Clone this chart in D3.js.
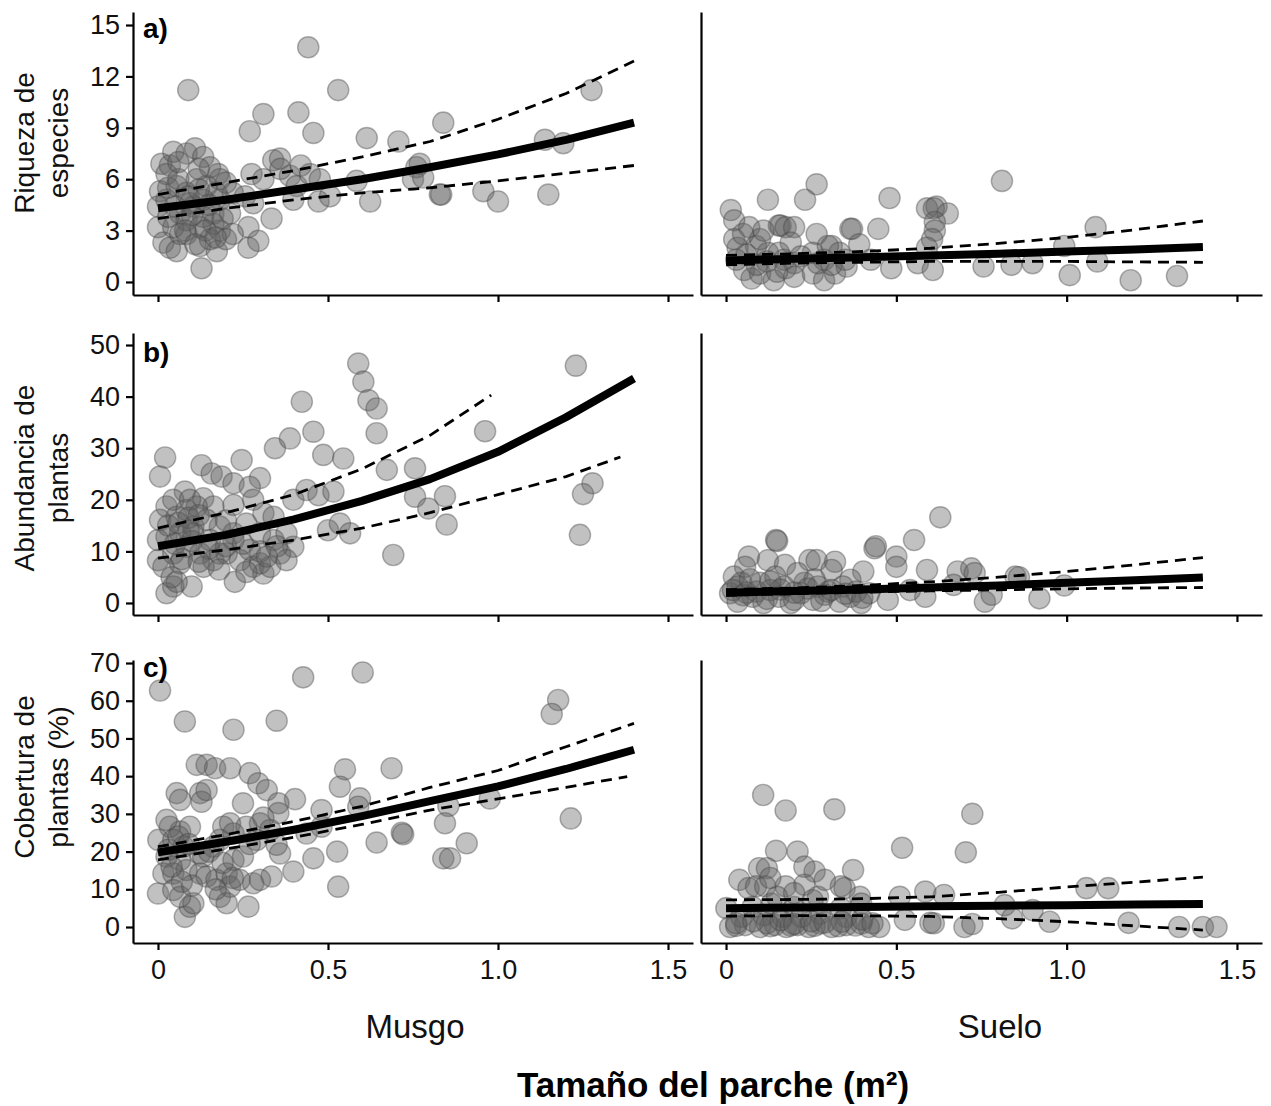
<!DOCTYPE html>
<html><head><meta charset="utf-8">
<script src="https://cdn.jsdelivr.net/npm/d3@7"></script>
<style>body{margin:0;background:#fff} text{font-family:"Liberation Sans",Arial,Helvetica,sans-serif}</style>
</head><body><svg id="c" width="1271" height="1106"></svg>
<script>
// ---------- data ----------
const xTickValues = [0, 0.5, 1.0, 1.5];
const xTickLabels = ["0", "0.5", "1.0", "1.5"];
const columnNames = ["Musgo", "Suelo"];
const rowLetters = ["a)", "b)", "c)"];
const rowTitles = [["Riqueza de", "especies"], ["Abundancia de", "plantas"], ["Cobertura de", "plantas (%)"]];
const yTicksRiqueza = [0, 3, 6, 9, 12, 15];
const yTicksAbundancia = [0, 10, 20, 30, 40, 50];
const yTicksCobertura = [0, 10, 20, 30, 40, 50, 60, 70];

const fitX = [0, 0.2, 0.4, 0.6, 0.8, 1.0, 1.2, 1.4];

// a) Riqueza de especies
const musgoRiqueza = [[0.089,11.2],[0.442,13.7],[0.53,11.2],[0.31,9.8],[0.27,8.8],[0.413,9.9],[0.457,8.7],[0.614,8.4],[0.707,8.2],[0.128,0.8],[0.01,6.9],[0.035,6.8],[0.084,7.5],[0.109,7.8],[0.045,7.6],[0.133,7.3],[0.177,6.3],[0.006,5.3],[0,4.4],[0,3.2],[0.016,2.3],[0.035,2.0],[0.055,1.8],[0.084,2.8],[0.124,2.1],[0.173,1.8],[0.153,2.5],[0.182,3.0],[0.266,3.2],[0.266,2.0],[0.295,2.4],[0.334,3.7],[0.275,6.3],[0.31,6.0],[0.339,7.1],[0.359,7.2],[0.388,6.2],[0.408,5.6],[0.398,4.8],[0.447,6.3],[0.476,6.0],[0.472,4.7],[0.506,5.0],[0.584,5.9],[0.624,4.7],[0.76,6.7],[0.75,6.0],[0.256,5.0],[0.28,4.6],[0.025,4.8],[0.055,5.6],[0.084,5.2],[0.114,6.0],[0.143,5.6],[0.065,4.0],[0.104,4.4],[0.133,4.8],[0.163,4.0],[0.182,4.8],[0.212,4.0],[0.22,5.2],[0.045,3.2],[0.084,3.6],[0.124,3.2],[0.163,3.4],[0.2,2.5],[0.22,2.8],[0.182,6.0],[0.153,6.7],[0.025,6.3],[0.065,2.8],[0.133,3.8],[0.094,4.6],[0.172,5.2],[0.839,9.3],[0.77,6.9],[0.78,6.1],[0.829,5.1],[0.833,5.1],[0.957,5.3],[1.0,4.7],[1.138,8.3],[1.192,8.1],[1.148,5.1],[1.275,11.2],[0.03,5.5],[0.06,6.0],[0.09,5.0],[0.12,5.4],[0.15,4.5],[0.05,4.4],[0.1,3.9],[0.14,3.0],[0.17,2.6],[0.08,3.0],[0.11,2.2],[0.03,3.8],[0.19,3.7],[0.2,5.8],[0.06,7.0],[0.12,6.6],[0.36,6.6],[0.42,6.8]];
const fitMusgoRiqueza = [4.3, 4.8, 5.4, 6.0, 6.7, 7.45, 8.3, 9.3];
const upMusgoRiqueza = [5.1, 5.8, 6.5, 7.3, 8.2, 9.5, 11.0, 12.9];
const loMusgoRiqueza = [3.7, 4.3, 4.8, 5.2, 5.5, 5.9, 6.35, 6.8];

const sueloRiqueza = [[0.81,5.9],[0.266,5.7],[0.232,4.8],[0.123,4.8],[0.014,4.2],[0.48,4.9],[0.59,4.3],[0.618,4.4],[0.61,4.3],[0.651,4.0],[0.613,3.5],[0.613,3.0],[0.605,2.5],[0.59,2.0],[0.447,3.1],[0.365,3.1],[0.37,3.1],[0.391,2.2],[1.085,3.2],[0.993,2.1],[1.09,1.2],[1.009,0.4],[1.188,0.1],[1.324,0.35],[0.756,0.9],[0.838,1.0],[0.9,1.1],[0.485,0.8],[0.563,1.1],[0.607,0.7],[0.425,1.3],[0.034,2.0],[0.068,3.2],[0.155,3.3],[0.16,3.3],[0.175,3.2],[0.2,3.2],[0.024,3.6],[0.266,2.8],[0.31,2.1],[0.088,2.1],[0.123,1.7],[0.17,1.3],[0.2,1.1],[0.053,0.7],[0.075,0.2],[0.1,0.5],[0.14,0.1],[0.175,0.8],[0.2,0.3],[0.255,0.5],[0.288,0.1],[0.32,0.5],[0.024,2.5],[0.1,2.5],[0.19,2.3],[0.255,1.7],[0.288,1.3],[0.333,1.7],[0.354,0.9],[0.299,2.1],[0.155,1.7],[0.03,1.3],[0.06,1.6],[0.09,1.0],[0.12,1.2],[0.15,0.6],[0.22,1.5],[0.27,1.1],[0.31,1.0],[0.35,1.3],[0.05,2.8],[0.11,3.0]];
const fitSueloRiqueza = [1.25, 1.35, 1.45, 1.55, 1.65, 1.78, 1.9, 2.04];
const upSueloRiqueza = [1.55, 1.65, 1.78, 1.97, 2.25, 2.6, 3.05, 3.56];
const loSueloRiqueza = [1.0, 1.1, 1.15, 1.2, 1.2, 1.2, 1.17, 1.15];

// b) Abundancia de plantas
const musgoAbundancia = [[0.021,28.2],[0.006,24.5],[0.128,26.7],[0.158,25.1],[0.187,24.5],[0.222,23.2],[0.246,27.7],[0.3,24.2],[0.27,22.5],[0.344,30.0],[0.388,31.9],[0.423,39.0],[0.457,33.2],[0.486,28.7],[0.545,28.0],[0.589,46.4],[0.604,42.9],[0.619,39.3],[0.643,37.7],[0.643,32.9],[0.673,25.8],[0.756,26.1],[0.692,9.3],[0.398,20.0],[0.437,21.9],[0.472,20.9],[0.516,21.6],[0.5,14.1],[0.535,15.4],[0.565,13.5],[0.756,20.6],[0.079,21.6],[0.133,20.3],[0.163,18.7],[0.222,19.0],[0.28,20.0],[0.31,17.4],[0.34,16.7],[0.226,4.1],[0.099,3.2],[0.025,1.9],[0.045,3.2],[0.055,4.1],[0,8.3],[0.006,16.1],[0.025,18.7],[0.055,16.7],[0.084,18.0],[0.114,18.7],[0.025,12.9],[0.065,13.5],[0.104,14.8],[0.143,16.1],[0.182,14.8],[0.222,13.5],[0.26,15.4],[0.3,13.5],[0.34,12.2],[0.378,13.5],[0.398,10.9],[0.045,9.6],[0.084,10.9],[0.124,9.6],[0.163,8.3],[0.202,9.6],[0.241,8.3],[0.28,7.0],[0.31,5.7],[0.33,7.0],[0.359,9.6],[0.378,8.3],[0.3,7.7],[0.016,7.0],[0.065,7.7],[0.134,7.0],[0.182,9.6],[0.27,10.3],[0.222,12.2],[0.153,12.2],[0.104,13.5],[0.045,20.0],[0,12.2],[0.094,20.0],[0.795,18.3],[0.844,20.7],[0.849,15.2],[0.962,33.3],[1.229,46.0],[1.278,23.2],[1.25,21.1],[1.241,13.2],[0.03,15.0],[0.06,15.5],[0.09,16.5],[0.12,17.0],[0.05,11.5],[0.1,12.0],[0.15,10.5],[0.2,11.0],[0.25,11.5],[0.3,10.0],[0.35,11.0],[0.07,8.5],[0.12,8.0],[0.18,6.5],[0.26,6.0],[0.32,9.0],[0.04,5.0],[0.09,14.0],[0.2,16.0]];
const fitMusgoAbundancia = [11.0, 13.2, 16.2, 19.8, 24.0, 29.3, 36.0, 43.5];
const upXMusgoAbundancia = [0, 0.2, 0.4, 0.6, 0.8, 0.98];
const upMusgoAbundancia = [14.5, 17.5, 21.0, 26.0, 32.5, 40.3];
const loXMusgoAbundancia = [0, 0.2, 0.4, 0.6, 0.8, 1.0, 1.2, 1.36];
const loMusgoAbundancia = [8.7, 10.3, 12.2, 14.5, 17.5, 21.0, 24.5, 28.3];

const sueloAbundancia = [[0.629,16.6],[0.552,12.2],[0.436,10.6],[0.44,11.0],[0.147,12.2],[0.15,12.0],[0.067,9.0],[0.123,8.3],[0.173,7.4],[0.245,8.3],[0.266,8.3],[0.32,8.0],[0.403,6.1],[0.5,9.0],[0.5,7.0],[0.59,6.4],[0.68,6.1],[0.72,6.7],[0.73,5.8],[0.85,5.1],[0.86,5.0],[0.993,3.4],[0.92,0.9],[0.76,0.25],[0.78,1.6],[0.668,3.5],[0.585,1.2],[0.54,2.5],[0.475,0.6],[0.365,4.5],[0.31,6.4],[0.056,7.0],[0.023,5.1],[0.012,1.9],[0.034,0.25],[0.078,1.2],[0.11,0.0],[0.155,1.2],[0.19,0],[0.22,1.9],[0.255,0.6],[0.29,1.6],[0.333,0.25],[0.365,1.2],[0.397,0],[0.42,1.9],[0.1,3.9],[0.17,3.2],[0.23,3.9],[0.27,3.2],[0.045,3.9],[0.145,5.1],[0.21,5.8],[0.034,3.2],[0.343,3.2],[0.382,2.2],[0.06,2.0],[0.13,2.5],[0.2,2.0],[0.3,2.2],[0.02,2.5],[0.05,1.5],[0.09,2.2],[0.12,0.8],[0.16,2.6],[0.2,0.6],[0.24,2.8],[0.28,0.4],[0.31,2.5],[0.35,1.8],[0.4,1.0],[0.07,4.6],[0.13,4.2],[0.26,4.6]];
const fitSueloAbundancia = [2.0, 2.3, 2.6, 3.0, 3.4, 3.9, 4.4, 4.95];
const upSueloAbundancia = [2.6, 2.9, 3.4, 4.1, 5.0, 6.1, 7.4, 8.8];
const loSueloAbundancia = [1.5, 1.8, 2.1, 2.35, 2.55, 2.75, 2.9, 3.0];

// c) Cobertura de plantas (%)
const musgoCobertura = [[0.006,62.7],[0.079,54.5],[0.222,52.3],[0.349,54.7],[0.427,66.2],[0.602,67.5],[0.55,41.8],[0.687,42.1],[0.535,37.2],[0.594,34.1],[0.589,31.9],[0.481,31.0],[0.481,26.6],[0.437,24.8],[0.457,18.2],[0.527,20.0],[0.53,10.7],[0.643,22.4],[0.717,25.0],[0.721,24.6],[0.398,14.7],[0.403,33.9],[0.114,43.0],[0.143,43.0],[0.168,42.1],[0.212,42.1],[0.27,40.8],[0.295,38.1],[0.32,36.3],[0.055,35.5],[0.065,33.7],[0.124,35.5],[0.128,33.2],[0.25,32.8],[0.354,32.8],[0.354,30.2],[0.359,19.5],[0.349,21.8],[0.334,13.4],[0.266,5.4],[0.079,2.7],[0.094,5.4],[0.104,6.3],[0,8.9],[0.016,14.2],[0.001,23.1],[0.035,26.6],[0.065,25.3],[0.094,26.6],[0.045,23.1],[0.075,21.3],[0.025,18.7],[0.065,17.8],[0.124,19.5],[0.163,21.3],[0.192,26.6],[0.212,27.5],[0.26,26.6],[0.3,27.5],[0.33,25.7],[0.29,23.1],[0.182,23.1],[0.222,24.8],[0.045,14.2],[0.084,15.1],[0.124,14.2],[0.143,13.4],[0.172,12.5],[0.202,14.2],[0.212,10.7],[0.182,8.0],[0.202,6.3],[0.045,9.8],[0.065,8.0],[0.222,17.8],[0.28,11.6],[0.3,12.5],[0.25,18.7],[0.025,28.4],[0.143,36.3],[0.133,18.7],[0.24,12.5],[1.177,60.2],[1.158,56.5],[0.976,34.1],[0.854,32.1],[0.844,27.5],[0.908,22.2],[0.839,18.2],[0.859,18.2],[1.214,28.8],[0.03,20.5],[0.06,24.0],[0.09,22.0],[0.15,20.0],[0.19,17.0],[0.1,11.0],[0.07,12.0],[0.17,10.0],[0.22,13.0],[0.27,22.0],[0.31,29.0],[0.04,16.0]];
const fitMusgoCobertura = [19.8, 22.6, 25.8, 29.4, 33.4, 37.3, 41.9, 47.0];
const upMusgoCobertura = [21.3, 24.5, 28.0, 32.0, 37.0, 41.5, 47.8, 54.0];
const loXMusgoCobertura = [0, 0.2, 0.4, 0.6, 0.8, 1.0, 1.2, 1.38];
const loMusgoCobertura = [17.8, 20.7, 23.8, 27.2, 31.0, 34.0, 37.0, 39.9];

const sueloCobertura = [[0.109,35.0],[0.175,30.9],[0.318,31.2],[0.723,30.0],[0.517,21.0],[0.704,19.8],[0.147,20.2],[0.21,20.0],[0.373,15.1],[0.097,15.6],[0.12,15.6],[0.26,14.7],[0.23,16.0],[0.039,12.5],[1.058,10.3],[1.122,10.3],[0.585,9.4],[0.64,8.5],[0.51,8.0],[0.9,4.5],[0.818,5.8],[0.84,2.3],[0.95,1.4],[1.182,1.1],[1.33,0],[1.40,0],[1.44,0],[0.7,0],[0.723,0.8],[0.6,1.1],[0.61,1.0],[0.525,1.9],[0.45,0],[0.337,5.0],[0.348,10.3],[0.337,10.8],[0.393,8.0],[0.27,8.0],[0.001,5.0],[0.066,10.3],[0.088,10.8],[0.115,10.8],[0.175,10.8],[0.23,11.2],[0.012,0],[0.056,0.5],[0.1,0],[0.144,0.5],[0.177,0],[0.21,0.5],[0.243,0],[0.276,0.9],[0.31,0],[0.353,0.5],[0.397,0.9],[0.419,0],[0.045,2.7],[0.111,3.1],[0.166,2.7],[0.221,2.7],[0.276,3.5],[0.353,2.7],[0.397,6.2],[0.133,6.2],[0.2,5.3],[0.254,7.1],[0.078,5.3],[0.03,0.3],[0.13,0.2],[0.19,0.4],[0.26,0.3],[0.33,0.2],[0.38,0.4],[0.03,1.0],[0.08,1.5],[0.12,1.0],[0.16,1.8],[0.2,0.8],[0.25,1.5],[0.29,1.2],[0.34,1.4],[0.4,2.0],[0.43,1.0],[0.15,8.0],[0.2,9.0],[0.29,12.5],[0.13,13.0]];
const fitSueloCobertura = [5.0, 5.15, 5.3, 5.5, 5.65, 5.8, 5.95, 6.1];
const upSueloCobertura = [7.2, 7.3, 7.5, 8.0, 9.2, 10.6, 11.9, 13.2];
const loSueloCobertura = [2.9, 3.0, 3.0, 2.8, 2.2, 1.4, 0.3, -0.8];

// ---------- layout ----------
const W = 1271, H = 1106;
const colRanges = [[133, 693], [701, 1262]];
const xDomain = [-0.0735, 1.5735];
const rowLayout = [
  {top: 12, bottom: 295, domain: [-0.76, 15.76], ticks: yTicksRiqueza, title: 143, letterY: 38},
  {top: 333, bottom: 615, domain: [-2.33, 52.33], ticks: yTicksAbundancia, title: 478, letterY: 362},
  {top: 660, bottom: 943, domain: [-4.24, 70.8], ticks: yTicksCobertura, title: 777, letterY: 677}
];
const zip = (xs, ys) => xs.map((x, i) => [x, ys[i]]);
const panels = [
  [ {pts: musgoRiqueza, fit: zip(fitX, fitMusgoRiqueza), up: zip(fitX, upMusgoRiqueza), lo: zip(fitX, loMusgoRiqueza)},
    {pts: sueloRiqueza, fit: zip(fitX, fitSueloRiqueza), up: zip(fitX, upSueloRiqueza), lo: zip(fitX, loSueloRiqueza)} ],
  [ {pts: musgoAbundancia, fit: zip(fitX, fitMusgoAbundancia), up: zip(upXMusgoAbundancia, upMusgoAbundancia), lo: zip(loXMusgoAbundancia, loMusgoAbundancia)},
    {pts: sueloAbundancia, fit: zip(fitX, fitSueloAbundancia), up: zip(fitX, upSueloAbundancia), lo: zip(fitX, loSueloAbundancia)} ],
  [ {pts: musgoCobertura, fit: zip(fitX, fitMusgoCobertura), up: zip(fitX, upMusgoCobertura), lo: zip(loXMusgoCobertura, loMusgoCobertura)},
    {pts: sueloCobertura, fit: zip(fitX, fitSueloCobertura), up: zip(fitX, upSueloCobertura), lo: zip(fitX, loSueloCobertura)} ]
];

const svg = d3.select("#c");
svg.append("rect").attr("width", W).attr("height", H).attr("fill", "#fff");

rowLayout.forEach((row, r) => {
  const y = d3.scaleLinear().domain(row.domain).range([row.bottom, row.top]);
  colRanges.forEach((cr, c) => {
    const x = d3.scaleLinear().domain(xDomain).range(cr);
    const p = panels[r][c];
    const g = svg.append("g");
    g.selectAll("circle").data(p.pts).enter().append("circle")
      .attr("cx", d => x(d[0])).attr("cy", d => y(d[1])).attr("r", 10.6)
      .attr("fill", "rgba(95,95,95,0.39)")
      .attr("stroke", "rgba(75,75,75,0.42)").attr("stroke-width", 1.4);
    const line = d3.line().x(d => x(d[0])).y(d => y(d[1]));
    [p.up, p.lo].forEach(dd => {
      g.append("path").attr("d", line(dd)).attr("fill", "none")
        .attr("stroke", "#000").attr("stroke-width", 2.8).attr("stroke-dasharray", "11,7");
    });
    g.append("path").attr("d", line(p.fit)).attr("fill", "none")
      .attr("stroke", "#000").attr("stroke-width", 8).attr("stroke-linejoin", "round");

    const xAxis = d3.axisBottom(x).tickValues(xTickValues).tickSize(7).tickSizeOuter(0).tickPadding(10)
      .tickFormat((d, i) => r === 2 ? xTickLabels[i] : "");
    const gx = svg.append("g").attr("transform", `translate(0,${row.bottom})`).call(xAxis);
    const yAxis = c === 0
      ? d3.axisLeft(y).tickValues(row.ticks).tickSize(7).tickSizeOuter(0).tickPadding(6)
      : d3.axisLeft(y).tickValues([]).tickSizeOuter(0);
    const gy = svg.append("g").attr("transform", `translate(${cr[0]},0)`).call(yAxis);
    [gx, gy].forEach(ax => {
      ax.select(".domain").attr("stroke", "#000").attr("stroke-width", 2.2);
      ax.selectAll(".tick line").attr("stroke", "#000").attr("stroke-width", 2.2);
      ax.selectAll(".tick text").attr("fill", "#111").style("font-size", "27px")
        .style("font-family", '"Liberation Sans",Arial,sans-serif');
    });
    if (c === 0) {
      svg.append("text").attr("x", 143).attr("y", row.letterY).text(rowLetters[r])
        .style("font-size", "28px").style("font-weight", "bold").attr("fill", "#000");
    }
  });
  const t = svg.append("text").attr("transform", `translate(0,${row.title}) rotate(-90)`)
    .attr("text-anchor", "middle").style("font-size", "28px").attr("fill", "#111");
  t.append("tspan").attr("x", 0).attr("y", 34).text(rowTitles[r][0]);
  t.append("tspan").attr("x", 0).attr("y", 68).text(rowTitles[r][1]);
});

svg.append("text").attr("x", 415).attr("y", 1038).attr("text-anchor", "middle")
  .style("font-size", "33px").attr("fill", "#111").text(columnNames[0]);
svg.append("text").attr("x", 1000).attr("y", 1038).attr("text-anchor", "middle")
  .style("font-size", "33px").attr("fill", "#111").text(columnNames[1]);
svg.append("text").attr("x", 713).attr("y", 1097).attr("text-anchor", "middle")
  .style("font-size", "35px").style("font-weight", "bold").attr("fill", "#000")
  .text("Tamaño del parche (m²)");
</script></body></html>
